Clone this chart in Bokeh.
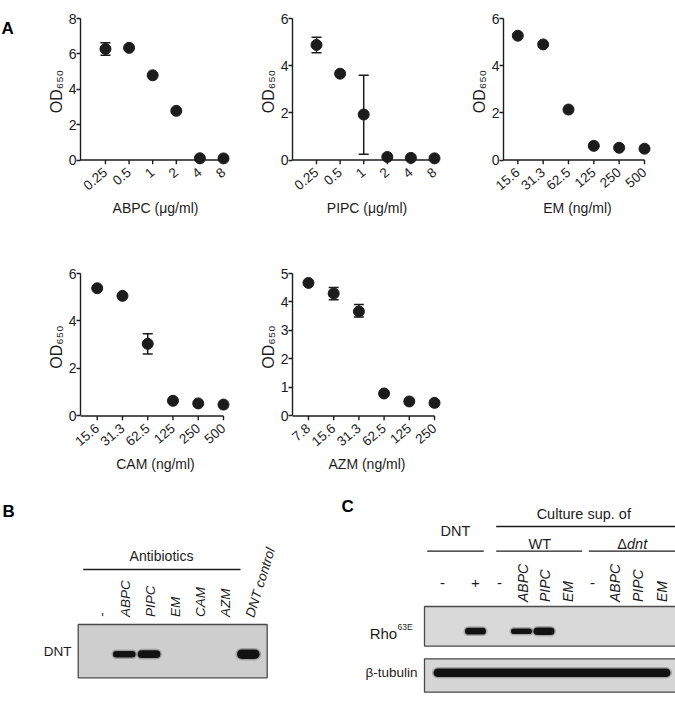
import math
from bokeh.plotting import figure
from bokeh.models import Range1d, FixedTicker
from bokeh.layouts import row, column
from bokeh.embed import file_html
from bokeh.resources import INLINE
from bokeh.core.properties import value

FONT = "Liberation Sans"
INK = "#1c1c1c"

# ---------------- data (panel A) ----------------
abpc_labels = ["0.25", "0.5", "1", "2", "4", "8"]
abpc_od = [6.28, 6.34, 4.79, 2.78, 0.10, 0.09]
abpc_hi = [6.63, None, None, None, None, None]
abpc_lo = [5.92, None, None, None, None, None]

pipc_labels = ["0.25", "0.5", "1", "2", "4", "8"]
pipc_od = [4.88, 3.66, 1.93, 0.13, 0.09, 0.07]
pipc_hi = [5.21, None, 3.59, None, None, None]
pipc_lo = [4.55, None, 0.24, None, None, None]

em_labels = ["15.6", "31.3", "62.5", "125", "250", "500"]
em_od = [5.27, 4.90, 2.14, 0.60, 0.52, 0.48]
em_hi = [None] * 6
em_lo = [None] * 6

cam_labels = ["15.6", "31.3", "62.5", "125", "250", "500"]
cam_od = [5.38, 5.06, 3.04, 0.64, 0.53, 0.48]
cam_hi = [None, None, 3.46, None, None, None]
cam_lo = [None, None, 2.61, None, None, None]

azm_labels = ["7.8", "15.6", "31.3", "62.5", "125", "250"]
azm_od = [4.67, 4.30, 3.67, 0.79, 0.51, 0.46]
azm_hi = [None, 4.51, 3.91, None, None, None]
azm_lo = [None, 4.08, 3.47, None, None, None]

# ---------------- data (panels B, C) ----------------
b_lanes = ["-", "ABPC", "PIPC", "EM", "CAM", "AZM", "DNT control"]
b_dnt = [0, 0.25, 0.55, 0, 0, 0, 1.0]

c_lanes = ["-", "+", "-", "ABPC", "PIPC", "EM", "-", "ABPC", "PIPC", "EM"]
c_rho = [0, 0.6, 0, 0.2, 0.85, 0, 0, 0, 0, 0]
c_tub = [1, 1, 1, 1, 1, 1, 1, 1, 1, 1]

ORIENT = 0.7
W = 675


def scatter_panel(labels, od, hi, lo, xlabel, ymax, ystep, geo):
    fig_left, fig_w, row_top, row_h, axis_x, first_px, spacing, ytop, yzero = geo
    pad_r = 7
    pad_b = 4.5
    n = len(labels)
    ppu = (yzero - ytop) / ymax
    xs = -(first_px - axis_x) / spacing
    xe = (n - 1) + pad_r / spacing
    ys = -pad_b / ppu
    frame_right = first_px + (n - 1) * spacing + pad_r
    frame_bottom = yzero + pad_b
    p = figure(width=fig_w, height=row_h, x_range=Range1d(xs, xe), y_range=Range1d(ys, ymax),
               output_backend="svg", toolbar_location=None,
               min_border_left=int(round(axis_x - fig_left)),
               min_border_right=int(round(fig_left + fig_w - frame_right)),
               min_border_top=int(round(ytop - row_top)),
               min_border_bottom=int(round(row_top + row_h - frame_bottom)),
               outline_line_color=None)
    p.grid.visible = False

    xa = p.xaxis[0]
    xa.ticker = FixedTicker(ticks=list(range(n)))
    xa.major_label_overrides = {i: lab for i, lab in enumerate(labels)}
    xa.major_label_orientation = ORIENT
    xa.axis_label = xlabel
    xa.axis_label_text_font = FONT
    xa.axis_label_text_font_size = "14px"
    xa.axis_label_text_font_style = "normal"
    xa.axis_label_text_color = INK
    xa.axis_label_standoff = 3
    xa.axis_line_color = None
    xa.major_tick_line_color = None
    xa.major_tick_in = 0
    xa.major_tick_out = 0
    xa.minor_tick_line_color = None
    xa.major_label_text_font = FONT
    xa.major_label_text_color = INK
    xa.major_label_text_font_size = "13.5px"
    xa.major_label_standoff = 6

    ya = p.yaxis[0]
    ticks = []
    t = 0
    while t <= ymax + 1e-9:
        ticks.append(t)
        t += ystep
    ya.ticker = FixedTicker(ticks=ticks)
    ya.bounds = (0, ymax)
    ya.minor_tick_line_color = None
    ya.major_tick_in = 0
    ya.major_tick_out = 4
    ya.axis_line_width = 1.4
    ya.major_tick_line_width = 1.4
    ya.axis_line_color = INK
    ya.major_tick_line_color = INK
    ya.major_label_text_font = FONT
    ya.major_label_text_color = INK
    ya.major_label_text_font_size = "14px"
    ya.major_label_standoff = 0
    ya.axis_label = "OD\u2086\u2085\u2080"
    ya.axis_label_text_font = FONT
    ya.axis_label_text_font_size = "16px"
    ya.axis_label_text_font_style = "normal"
    ya.axis_label_text_color = INK
    ya.axis_label_standoff = 1

    # x axis line at OD = 0 and its ticks (drawn through the data scale)
    p.segment(x0=[xs], y0=[0], x1=[n - 1], y1=[0], line_color=INK, line_width=1.4)
    p.segment(x0=list(range(n)), y0=[0] * n, x1=list(range(n)), y1=[ys] * n,
              line_color=INK, line_width=1.4)

    ex = [i for i in range(n) if hi[i] is not None]
    if ex:
        eh = [hi[i] for i in ex]
        el = [lo[i] for i in ex]
        p.segment(x0=ex, y0=el, x1=ex, y1=eh, line_color=INK, line_width=1.5)
        p.scatter(x=ex, y=eh, marker="dash", size=10, line_color=INK, line_width=1.5)
        p.scatter(x=ex, y=el, marker="dash", size=10, line_color=INK, line_width=1.5)
    p.scatter(x=list(range(n)), y=od, size=11, fill_color=INK, line_color=INK)
    return p


def letter_fig(letter, w, h):
    f = figure(width=w, height=h, x_range=Range1d(0, w), y_range=Range1d(-h, 0),
               x_axis_type=None, y_axis_type=None, min_border=0, output_backend="svg",
               toolbar_location=None, outline_line_color=None)
    f.grid.visible = False
    f.text(x=[1], y=[0], text=[letter], text_font=value(FONT), text_font_size="17px",
           text_font_style="bold", text_align="left", text_baseline="top", text_color="black")
    return f


la = letter_fig("A", 28, 240)
a1 = scatter_panel(abpc_labels, abpc_od, abpc_hi, abpc_lo, "ABPC (μg/ml)", 8, 2,
                   (28, 217, 0, 240, 80, 105, 23.65, 18, 160))
a2 = scatter_panel(pipc_labels, pipc_od, pipc_hi, pipc_lo, "PIPC (μg/ml)", 6, 2,
                   (245, 215, 0, 240, 292, 316, 23.6, 18, 160))
a3 = scatter_panel(em_labels, em_od, em_hi, em_lo, "EM (ng/ml)", 6, 2,
                   (460, W - 460, 0, 240, 503, 517.3, 25.3, 18, 160))
a4 = scatter_panel(cam_labels, cam_od, cam_hi, cam_lo, "CAM (ng/ml)", 6, 2,
                   (0, 245, 240, 240, 80, 96.7, 25.2, 273.3, 415))
a5 = scatter_panel(azm_labels, azm_od, azm_hi, azm_lo, "AZM (ng/ml)", 5, 1,
                   (245, W - 245, 240, 240, 291.7, 307.7, 25.26, 273.3, 415))

# ---------------- panels B and C (screen coordinates, y = -screen_y) ----------------
BOT_TOP, BOT_BOTTOM = 480, 701
pb = figure(width=W, height=BOT_BOTTOM - BOT_TOP, x_range=Range1d(0, W),
            y_range=Range1d(-BOT_BOTTOM, -BOT_TOP),
            x_axis_type=None, y_axis_type=None, min_border=0, output_backend="svg",
            toolbar_location=None, outline_line_color=None)
pb.grid.visible = False


def txt(x, y, s, size="14px", align="center", baseline="middle", style="normal", angle=0.0, color=INK):
    pb.text(x=[x], y=[-y], text=[s], text_font=value(FONT), text_font_size=size,
            text_align=align, text_baseline=baseline, text_font_style=style, angle=angle,
            text_color=color)


def hline(x0, x1, y):
    pb.segment(x0=[x0], y0=[-y], x1=[x1], y1=[-y], line_color=INK, line_width=1.3)


def draw_band_runs(x0s, x1s, ys, hs):
    pb.segment(x0=x0s, y0=ys, x1=x1s, y1=ys, line_width=[h + 3 for h in hs],
               line_color="#3a3a3a", line_alpha=0.3, line_cap="round")
    pb.segment(x0=x0s, y0=ys, x1=x1s, y1=ys, line_width=hs, line_color="#121212",
               line_cap="round")


def bands(lane_x, inten, y, length, base_h, gain_h):
    xs0, xs1, ys, hs = [], [], [], []
    for lx, it in zip(lane_x, inten):
        if it <= 0:
            continue
        h = base_h + gain_h * it
        xs0.append(lx - length / 2 + h / 2)
        xs1.append(lx + length / 2 - h / 2)
        ys.append(-y)
        hs.append(h)
    draw_band_runs(xs0, xs1, ys, hs)


# Panel B
txt(2, 511, "B", size="17px", align="left", style="bold", color="black")
txt(161, 555, "Antibiotics", size="14px")
hline(82.7, 240, 569)
b_x = [99 + 24.8 * i for i in range(len(b_lanes))]
for i, lab in enumerate(b_lanes):
    ang = math.radians(73) if lab == "DNT control" else math.pi / 2
    txt(b_x[i] + 1.5, 616.5, lab, size="13.5px", align="left", style="italic", angle=ang)
txt(71, 651, "DNT", size="13.5px", align="right")
pb.quad(left=[77.7], right=[266.7], top=[-624], bottom=[-677.3], fill_color="#cecece",
        line_color="#4a4a4a", line_width=1.3)
bands(b_x, b_dnt, 653.7, 22.6, 5.5, 4.0)

# Panel C
txt(341, 506, "C", size="17px", align="left", style="bold", color="black")
txt(583.3, 513.3, "Culture sup. of", size="14.5px")
hline(495.7, W, 526)
txt(455, 530, "DNT", size="14.5px")
hline(426.7, 483.3, 550.7)
txt(539.3, 543.3, "WT", size="14.5px")
hline(495.7, 581.7, 550.7)
txt(626.5, 543.3, "Δ", size="14.5px", align="right")
txt(626.5, 543.3, "dnt", size="14.5px", align="left", style="italic")
hline(588.3, W, 550.7)
c_x = [442, 475, 499, 521, 543.5, 566.5, 592, 613, 636.5, 660]
for i, lab in enumerate(c_lanes):
    if lab in ("-", "+"):
        txt(c_x[i], 582, lab, size="15px")
    else:
        txt(c_x[i] + 1, 601.5, lab, size="14px", align="left", style="italic", angle=math.pi / 2)
pb.quad(left=[424], right=[W + 2], top=[-606], bottom=[-645.7], fill_color="#d9d9d9",
        line_color="#4a4a4a", line_width=1.3)
bands(c_x, c_rho, 630.7, 21, 5.0, 3.0)
txt(396.7, 633.3, "Rho", size="15px", align="right", baseline="alphabetic")
txt(397, 626, "63E", size="8.5px", align="left", baseline="alphabetic")
pb.quad(left=[424], right=[W + 2], top=[-658.3], bottom=[-691.7], fill_color="#d6d6d6",
        line_color="#4a4a4a", line_width=1.3)
# tubulin: contiguous lanes with signal merge into one continuous band
runs = []
cur = None
for i, it in enumerate(c_tub):
    if it > 0:
        left = (c_x[i - 1] + c_x[i]) / 2 if i > 0 else c_x[i] - 9
        right = (c_x[i + 1] + c_x[i]) / 2 if i < len(c_x) - 1 else c_x[i] + 10
        if cur is None:
            cur = [left, right]
        else:
            cur[1] = right
    elif cur is not None:
        runs.append(cur)
        cur = None
if cur is not None:
    runs.append(cur)
th = 8.5
draw_band_runs([r[0] + th / 2 for r in runs], [r[1] - th / 2 for r in runs],
               [-672.3] * len(runs), [th] * len(runs))
txt(417, 672.3, "β-tubulin", size="13.5px", align="right")

layout = column(row(la, a1, a2, a3), row(a4, a5), pb)
open("out.html", "w").write(file_html(layout, INLINE))
